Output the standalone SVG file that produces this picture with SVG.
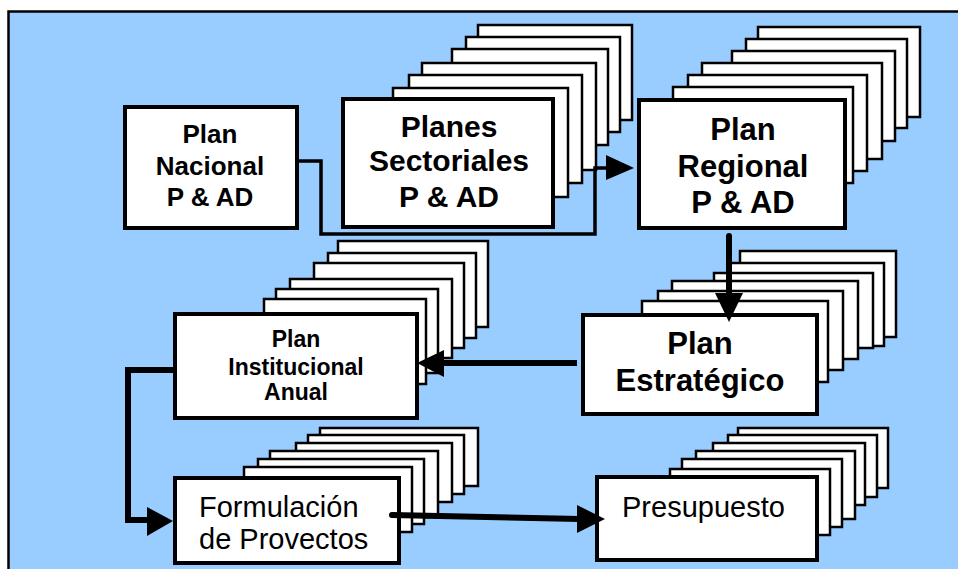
<svg xmlns="http://www.w3.org/2000/svg" width="958" height="569" viewBox="0 0 958 569">
<style>
.frame{fill:#99CCFF;stroke:#000;stroke-width:2.5}
.page{fill:#fff;stroke:#000;stroke-width:2.5}
.box{fill:#fff;stroke:#000;stroke-width:4}
.b{font-family:"Liberation Sans",Arial,sans-serif;font-weight:bold;fill:#000;text-anchor:middle}
.r{font-family:"Liberation Sans",Arial,sans-serif;fill:#000}
.c{fill:none;stroke:#000;stroke-linejoin:miter}
.ah{fill:#000}
</style>
<rect class="frame" x="8.5" y="11.5" width="965" height="570"/>

<g id="plan-nacional">
<rect class="box" x="125" y="107" width="172" height="121"/>
<text class="b" font-size="26" x="210" y="143">Plan</text>
<text class="b" font-size="26" x="210" y="175">Nacional</text>
<text class="b" font-size="26" x="210" y="206">P &amp; AD</text>
</g>

<g id="planes-sectoriales">
<rect class="page" x="478" y="25" width="154" height="95"/>
<rect class="page" x="466" y="37" width="154" height="95"/>
<rect class="page" x="452" y="49" width="156" height="96"/>
<rect class="page" x="422" y="63" width="174" height="107"/>
<rect class="page" x="409" y="75" width="173" height="108"/>
<rect class="page" x="393" y="88" width="175" height="109"/>
<rect class="box" x="343" y="99" width="210" height="128"/>
<text class="b" font-size="30" x="449" y="137">Planes</text>
<text class="b" font-size="30" x="449" y="171">Sectoriales</text>
<text class="b" font-size="30" x="449" y="207">P &amp; AD</text>
</g>

<g id="plan-regional">
<rect class="page" x="758" y="27" width="162" height="90"/>
<rect class="page" x="746" y="39" width="161" height="89"/>
<rect class="page" x="732" y="51" width="163" height="90"/>
<rect class="page" x="702" y="63" width="180" height="96"/>
<rect class="page" x="688" y="75" width="179" height="96"/>
<rect class="page" x="673" y="87" width="180" height="96"/>
<rect class="box" x="639" y="100" width="206" height="128"/>
<text class="b" font-size="31" x="743" y="140">Plan</text>
<text class="b" font-size="31" x="743" y="177">Regional</text>
<text class="b" font-size="31" x="743" y="213">P &amp; AD</text>
</g>

<g id="plan-estrategico">
<rect class="page" x="740" y="251" width="156" height="86"/>
<rect class="page" x="728" y="263" width="156" height="83"/>
<rect class="page" x="714" y="273" width="159" height="75"/>
<rect class="page" x="672" y="281" width="186" height="78"/>
<rect class="page" x="658" y="291" width="185" height="79"/>
<rect class="page" x="642" y="301" width="186" height="81"/>
<rect class="box" x="583" y="315" width="234" height="99"/>
<text class="b" font-size="31" x="700" y="354">Plan</text>
<text class="b" font-size="31" x="700" y="391">Estratégico</text>
</g>

<g id="plan-institucional">
<rect class="page" x="338" y="241" width="150" height="86"/>
<rect class="page" x="328" y="253" width="148" height="85"/>
<rect class="page" x="314" y="263" width="150" height="85"/>
<rect class="page" x="290" y="279" width="162" height="79"/>
<rect class="page" x="276" y="289" width="162" height="84"/>
<rect class="page" x="264" y="299" width="162" height="85"/>
<rect class="box" x="175" y="314" width="242" height="104"/>
<text class="b" font-size="23" x="296" y="347">Plan</text>
<text class="b" font-size="23" x="296" y="375">Institucional</text>
<text class="b" font-size="23" x="296" y="400">Anual</text>
</g>

<g id="formulacion">
<rect class="page" x="320" y="428" width="158" height="58"/>
<rect class="page" x="308" y="435" width="156" height="59"/>
<rect class="page" x="296" y="443" width="156" height="59"/>
<rect class="page" x="270" y="451" width="168" height="66"/>
<rect class="page" x="258" y="459" width="166" height="65"/>
<rect class="page" x="244" y="467" width="168" height="65"/>
<rect class="box" x="175" y="478" width="224" height="85"/>
<text class="r" font-size="29" x="199" y="517">Formulación</text>
<text class="r" font-size="29" x="199" y="549">de Provectos</text>
</g>

<g id="presupuesto">
<rect class="page" x="738" y="428" width="150" height="60"/>
<rect class="page" x="728" y="435" width="149" height="62"/>
<rect class="page" x="713" y="443" width="152" height="62"/>
<rect class="page" x="696" y="451" width="159" height="68"/>
<rect class="page" x="682" y="459" width="160" height="68"/>
<rect class="page" x="670" y="469" width="160" height="66"/>
<rect class="box" x="597" y="477" width="220" height="83"/>
<text class="r" font-size="29" x="622" y="517">Presupuesto</text>
</g>

<g id="connectors">
<polyline class="c" stroke-width="3.5" points="297,161 321,161 321,234 595,234 595,168 610,168"/>
<polygon class="ah" points="606,155 634,168 606,180"/>
<line class="c" stroke-width="6" stroke-linecap="round" x1="729" y1="236" x2="729" y2="296"/>
<polygon class="ah" points="715,293 743,293 729,322"/>
<line class="c" stroke-width="6" x1="577" y1="363" x2="440" y2="363"/>
<polygon class="ah" points="444,350 417,363 444,377"/>
<polyline class="c" stroke-width="6" points="175,370 128,370 128,520 150,520"/>
<polygon class="ah" points="147,507 173,521 147,536"/>
<line class="c" stroke-width="6" stroke-linecap="round" x1="392" y1="515" x2="580" y2="519"/>
<polygon class="ah" points="577,505 605,519 577,533"/>
</g>
</svg>
